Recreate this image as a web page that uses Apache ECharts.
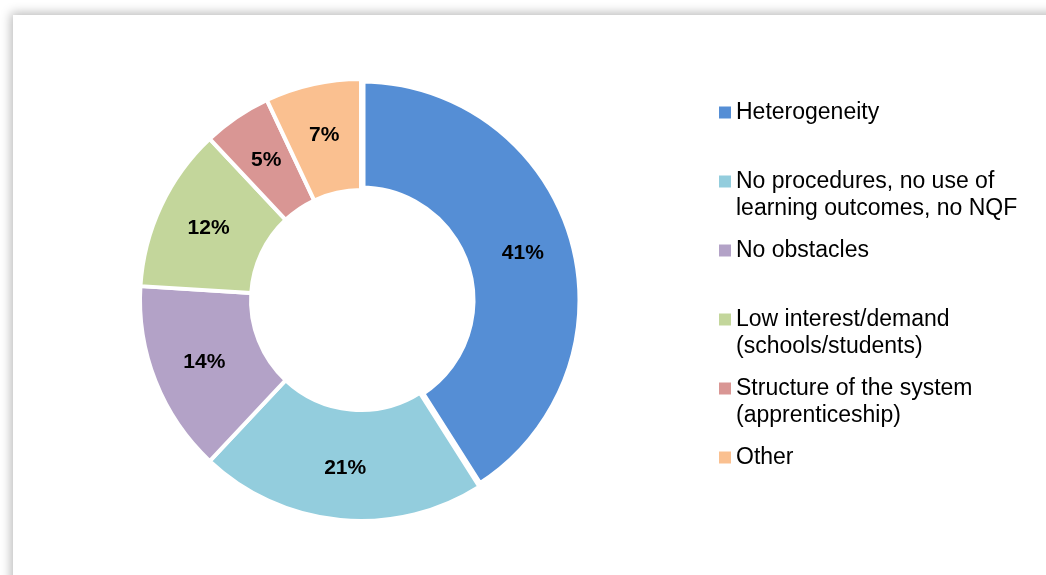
<!DOCTYPE html>
<html>
<head>
<meta charset="utf-8">
<script src="https://cdn.jsdelivr.net/npm/echarts@6/dist/echarts.min.js"></script>
<style>
    html, body { margin: 0; padding: 0; background: #fff; overflow: hidden; }
    #frame {
        position: absolute; left: 13px; top: 15px; width: 1200px; height: 800px;
        background: #fff; box-shadow: 0 0 10px 2px rgba(0, 0, 0, 0.28);
    }
    #chart { position: absolute; left: 0; top: 0; width: 1046px; height: 575px; }
</style>
</head>
<body>
<div id="frame"></div>
<div id="chart"></div>
<script>
var categories = [
    'Heterogeneity',
    'No procedures, no use of\nlearning outcomes, no NQF',
    'No obstacles',
    'Low interest/demand\n(schools/students)',
    'Structure of the system\n(apprenticeship)',
    'Other'
];
var shares = [41, 21, 14, 12, 5, 7];
var colors = ['#558ED5', '#93CDDD', '#B3A2C7', '#C3D69B', '#D99694', '#FAC090'];

var chartDom = document.getElementById('chart');
var myChart = echarts.init(chartDom);

var pieData = categories.map(function (name, i) {
    return {
        name: name,
        value: shares[i],
        itemStyle: {
            color: colors[i],
            borderWidth: i === 0 ? 9 : 4  // first slice stands off a bit more
        }
    };
});

var option = {
    animation: false,
    textStyle: { fontFamily: 'Liberation Sans, Arial, sans-serif' },
    legend: {
        orient: 'vertical',
        left: 719,
        top: 99,
        padding: 0,
        itemWidth: 12,
        itemHeight: 54,
        itemGap: 15,
        selectedMode: false,
        // square sits beside the first text line
        icon: 'path://M0,0M12,54M0,7.5h12v12h-12z',
        itemStyle: { borderWidth: 0 },
        formatter: function (name) {
            return name.indexOf('\n') < 0 ? name + '\n' : name;
        },
        textStyle: {
            color: '#000',
            fontSize: 23,
            lineHeight: 27
        },
        data: categories
    },
    series: [
        {
            type: 'pie',
            center: [361, 300],
            radius: [110, 221],
            startAngle: 90,
            clockwise: true,
            itemStyle: {
                borderColor: '#fff',
                borderWidth: 4
            },
            label: {
                show: true,
                position: 'inside',
                formatter: '{c}%',
                color: '#000',
                fontWeight: 'bold',
                fontSize: 21
            },
            labelLine: { show: false },
            emphasis: { disabled: true },
            data: pieData
        }
    ]
};
option && myChart.setOption(option);
</script>
</body>
</html>
